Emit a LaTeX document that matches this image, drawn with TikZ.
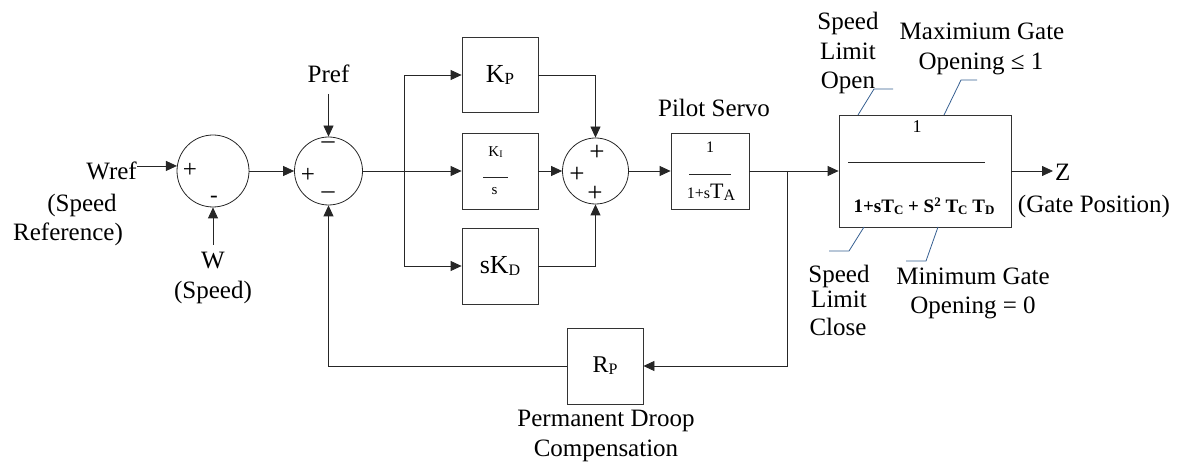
\documentclass[tikz,border=0pt]{standalone}
\usepackage{fontspec}
\setmainfont{Liberation Serif}
\usetikzlibrary{arrows.meta}
\definecolor{annotc}{RGB}{54,95,145}
\newcommand\fsz[1]{\fontsize{#1}{#1}\selectfont}
\begin{document}
\begin{tikzpicture}[x=1pt,y=-1pt,
  ln/.style={line width=0.8pt, draw=black!85},
  conn/.style={ln, -{Triangle[length=11pt,width=10pt]}},
  blk/.style={draw=black!80, line width=0.8pt, rectangle, inner sep=0,
              minimum width=76pt, minimum height=76pt},
  sumc/.style={draw=black!85, line width=0.8pt, circle, inner sep=0},
  lab/.style={inner sep=0, font=\fsz{25}},
  sgn/.style={inner sep=0},
  annot/.style={draw=annotc, line width=0.8pt}]
\useasboundingbox (0,0) rectangle (1186,462);

% summing junctions
\node[sumc, minimum size=72pt] (s1) at (213,171) {};
\node[sumc, minimum size=68pt] (s2) at (328.5,171) {};
\node[sumc, minimum size=66pt] (s3) at (595.5,171) {};

\node[sgn, font=\fsz{25}] (s1p) at (190,170) {+};
\node[sgn, font=\fsz{23}] (s1m) at (214,199) {-};
\node[sgn, font=\fsz{25}] (s2p) at (308,175) {+};
\node[sgn, font=\fsz{26}] (s2mt) at (328,145) {–};
\node[sgn, font=\fsz{26}] (s2mb) at (328,195) {–};
\node[sgn, font=\fsz{27}] (s3pt) at (597,153) {+};
\node[sgn, font=\fsz{27}] (s3pl) at (577,175) {+};
\node[sgn, font=\fsz{27}] (s3pb) at (595,194) {+};

% blocks
\node[blk, minimum height=75pt] (kp) at (500,75) {{\fsz{26}K\raisebox{-2pt}{\fsz{17}P}}};
\node[blk] (ki) at (500,171) {};
\node[blk] (kd) at (500,266) {{\fsz{26}sK\raisebox{-2pt}{\fsz{16}D}}};
\node[blk, minimum width=78pt] (pil) at (710,171) {};
\node[blk, minimum width=172pt, minimum height=112pt] (gate) at (925,171) {};
\node[blk] (rp) at (605,366) {{\fsz{24}R\raisebox{-2pt}{\fsz{16}P}}};

% KI / s
\node[sgn, anchor=base] (kinum) at (495.5,157) {{\fsz{15}K\raisebox{-1pt}{\fsz{10}I}}};
\node[sgn, anchor=base] (kiden) at (494.5,195) {{\fsz{15}s}};
\coordinate (kil1) at (483,177); \coordinate (kil2) at (508,177);
\draw[ln] (kil1) -- (kil2);

% pilot servo
\node[sgn, anchor=base] (pnum) at (710,153) {{\fsz{16}1}};
\node[sgn, anchor=base] (pden) at (711,199) {{\fsz{16}1+s}{\fsz{22}T}\raisebox{-2pt}{\fsz{16}A}};
\coordinate (pl1) at (689,174); \coordinate (pl2) at (731,174);
\draw[ln] (pl1) -- (pl2);

% gate block
\node[sgn, anchor=base] (gnum) at (917,133) {{\fsz{18}1}};
\node[sgn, anchor=base] (gden) at (924,213) {\fsz{19}\bfseries 1+sT\raisebox{-2pt}{\fsz{13}C} + S\raisebox{6pt}{\fsz{13}2} T\raisebox{-2pt}{\fsz{13}C} T\raisebox{-2pt}{\fsz{13}D}};
\coordinate (gl1) at (848,162); \coordinate (gl2) at (985,162);
\draw[ln] (gl1) -- (gl2);

% labels
\node[lab, anchor=base east] (wref) at (137,180) {Wref};
\node[lab, anchor=base] (wref2) at (82,212) {(Speed};
\node[lab, anchor=base] (wref3) at (68,241) {Reference)};
\node[lab, anchor=base] (wl) at (213,269) {W};
\node[lab, anchor=base] (wl2) at (213,299) {(Speed)};
\node[lab, anchor=base] (pref) at (328.5,83) {Pref};
\node[lab, anchor=base] (pilot) at (714,117) {Pilot Servo};
\node[lab, anchor=base west] (z) at (1055,181) {Z};
\node[lab, anchor=base] (gpos) at (1094,213) {(Gate Position)};
\node[lab, anchor=base] (pd1) at (606,426) {Permanent Droop};
\node[lab, anchor=base] (pd2) at (606,456) {Compensation};

\node[lab, anchor=base] (slo1) at (848,30) {Speed};
\node[lab, anchor=base] (slo2) at (848,60) {Limit};
\node[lab, anchor=base] (slo3) at (848,89) {Open};
\node[lab, anchor=base] (mx1) at (982,40) {Maximium Gate};
\node[lab, anchor=base] (mx2) at (981,70) {Opening ≤ 1};
\node[lab, anchor=base] (slc1) at (839,283) {Speed};
\node[lab, anchor=base] (slc2) at (839,308) {Limit};
\node[lab, anchor=base] (slc3) at (838,335) {Close};
\node[lab, anchor=base] (mn1) at (973,285) {Minimum Gate};
\node[lab, anchor=base] (mn2) at (973,313) {Opening = 0};

% connectors
\coordinate (wt) at (213,245);
\coordinate (pt) at (328.5,94);
\coordinate (br1) at (404,171);
\coordinate (br2) at (787,171);
\coordinate (zt) at (1053,171);

\draw[conn] (wref.east |- s1.172) -- (s1.172);
\draw[conn] (wt) -- (s1.south);
\draw[conn] (s1.east) -- (s2.west);
\draw[conn] (pt) -- (s2.north);
\draw[conn] (s2.east) -- (ki.west);
\draw[conn] (br1) |- (kp.west);
\draw[conn] (br1) |- (kd.west);
\draw[conn] (kp.east) -| (s3.north);
\draw[conn] (kd.east) -| (s3.south);
\draw[conn] (ki.east) -- (s3.west);
\draw[conn] (s3.east) -- (pil.west);
\draw[conn] (pil.east) -- (gate.west);
\draw[conn] (gate.east) -- (zt);
\draw[conn] (br2) |- (rp.east);
\draw[conn] (rp.west) -| (s2.south);

% annotation leaders
\draw[annot] (858,115) -- (874,89) -- (893,89);
\draw[annot] (944,115) -- (961,80) -- (977,80);
\draw[annot] (864,227) -- (849,251) -- (829,251);
\draw[annot] (938,227) -- (926,261) -- (906,261);
\end{tikzpicture}
\end{document}
